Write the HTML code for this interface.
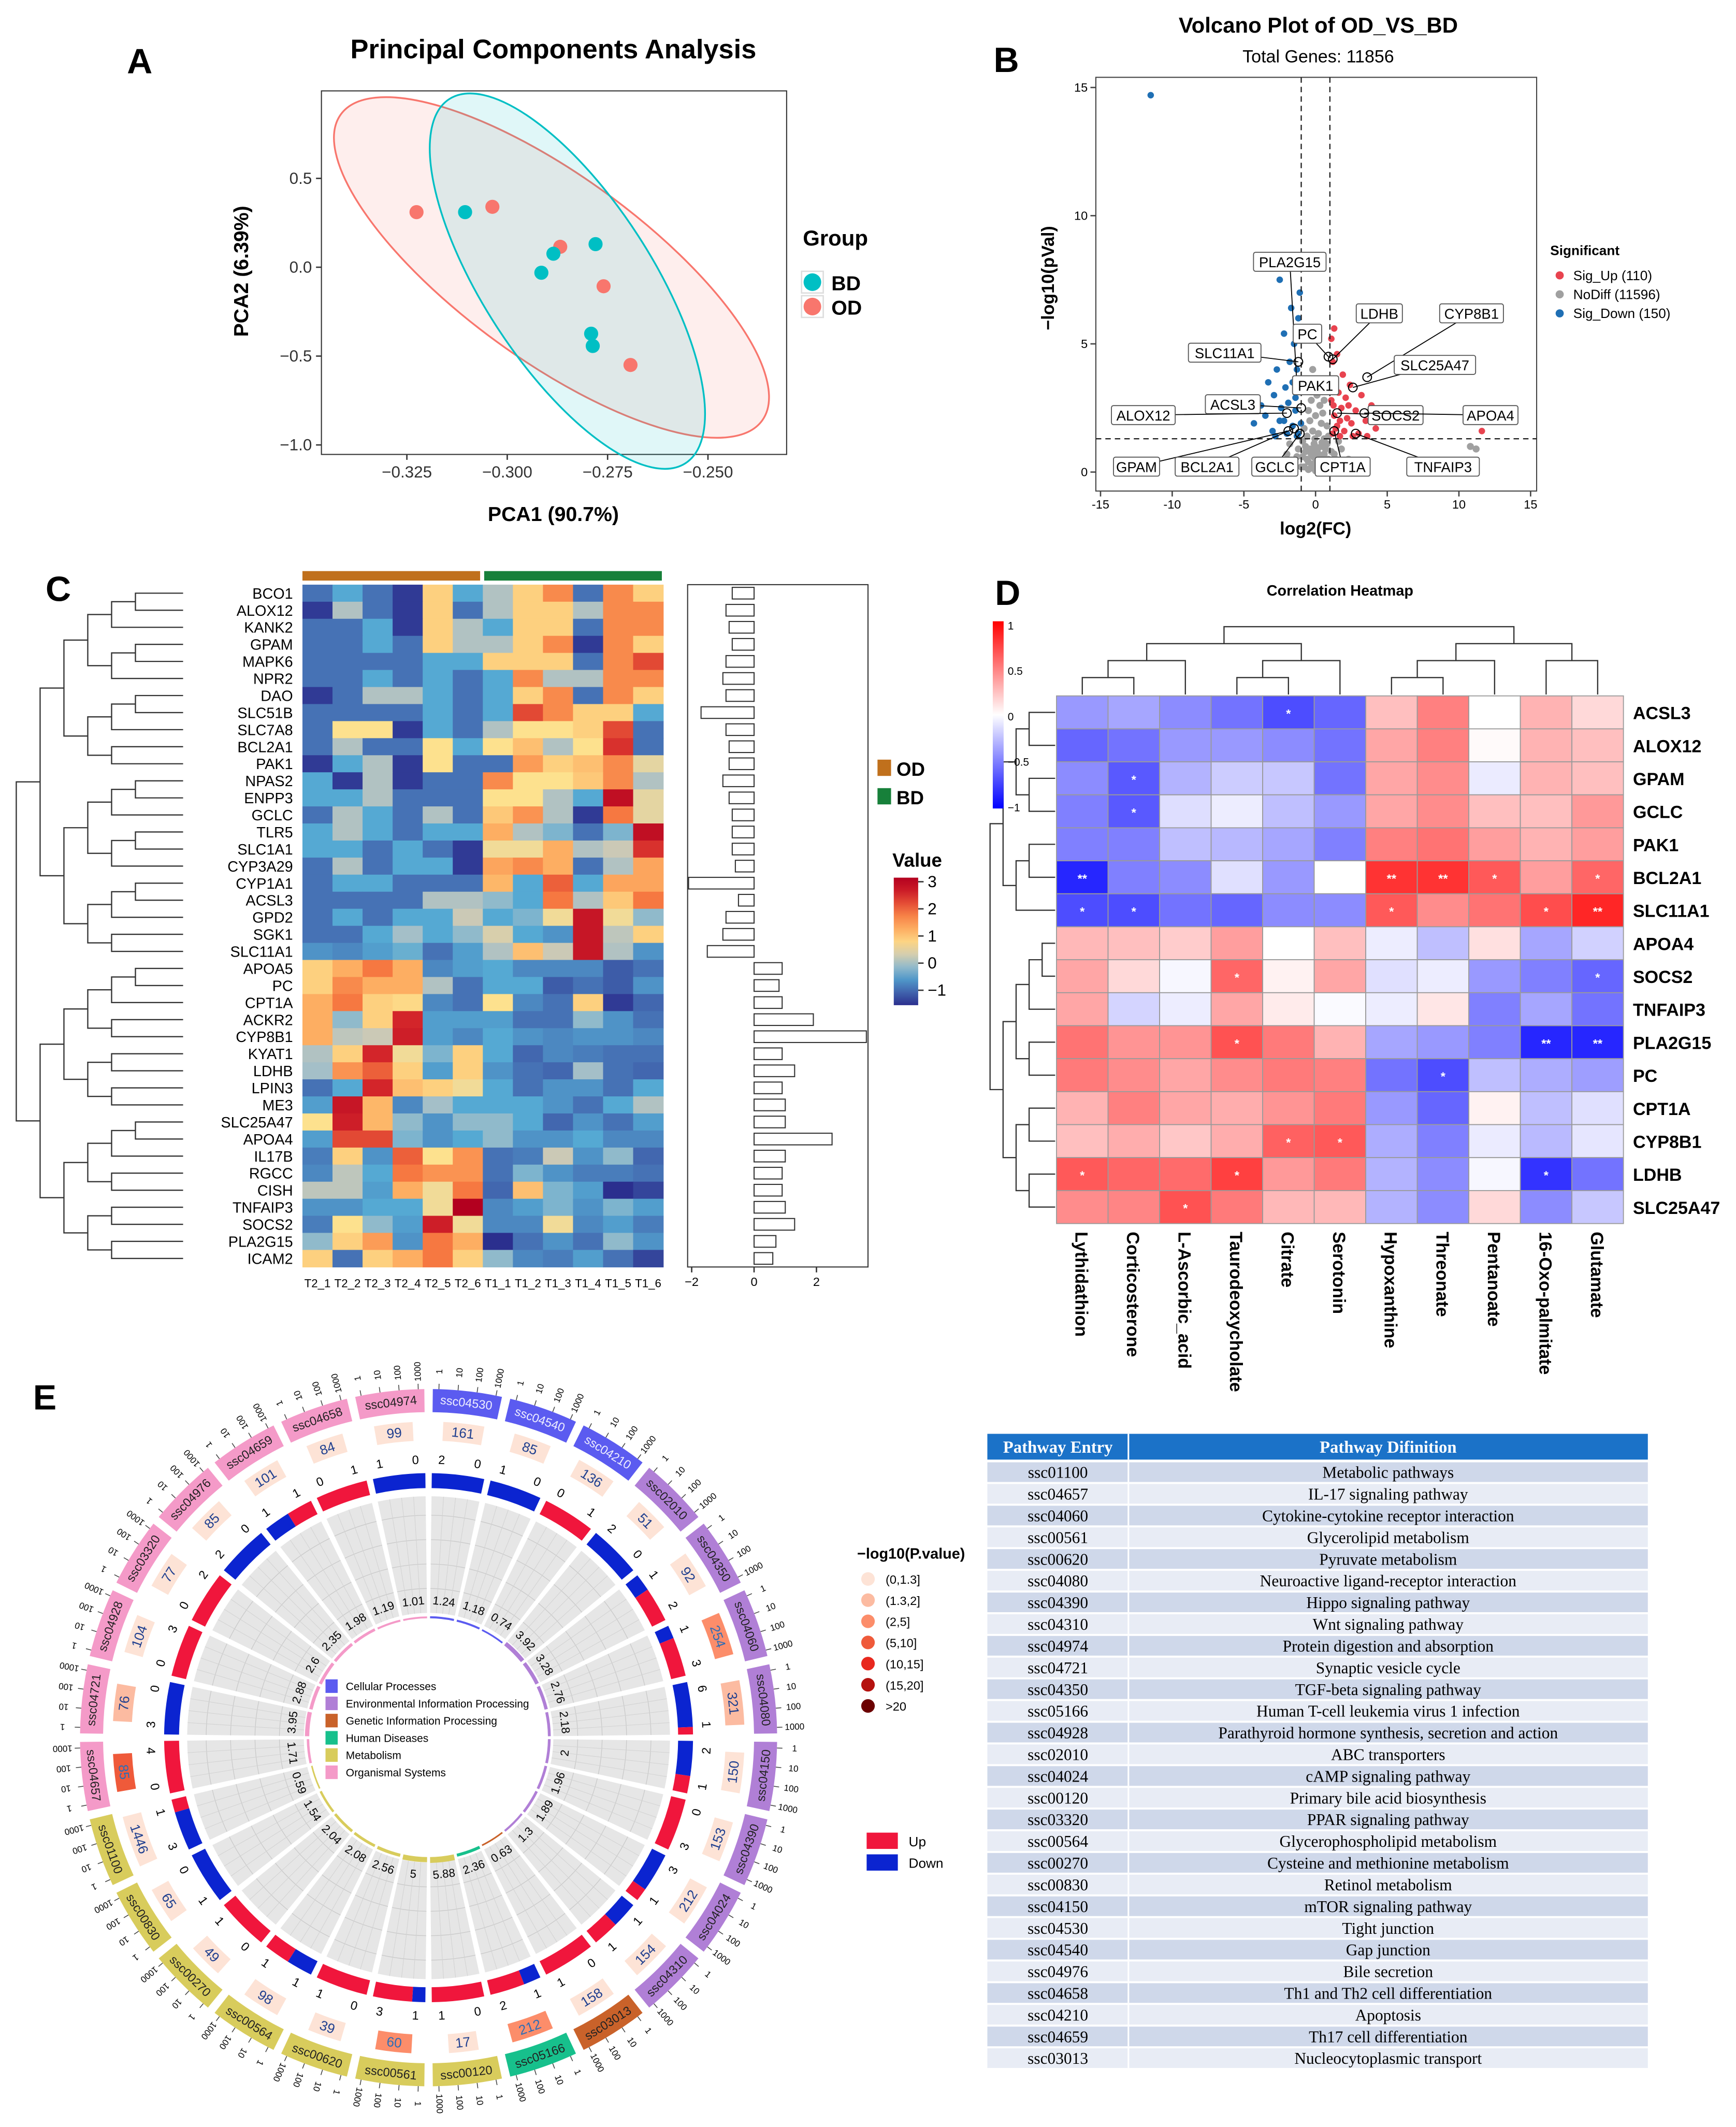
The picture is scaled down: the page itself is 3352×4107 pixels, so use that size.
<!DOCTYPE html>
<html><head><meta charset="utf-8">
<style>
html,body{margin:0;padding:0;background:#fff;}
svg{display:block;font-family:"Liberation Sans",sans-serif;}
.ser{font-family:"Liberation Serif",serif;}
</style></head>
<body>
<svg id="fig" xmlns="http://www.w3.org/2000/svg" width="3352" height="4107" viewBox="0 0 1280 1568" preserveAspectRatio="none">
<rect x="0" y="0" width="1280" height="1568" fill="#fff"/>
<g id="gA"></g>
<g id="gB"></g>
<g id="gC"></g>
<g id="gD"></g>
<g id="gE"></g>
<g id="gT"></g>
</svg>
<script>
// ---------- DATA ----------
const pcaODx=[-0.3226,-0.3037,-0.2868,-0.2760,-0.2693];
const pcaODy=[0.31,0.34,0.115,-0.107,-0.55];
const pcaBDx=[-0.3105,-0.2885,-0.2915,-0.2780,-0.2791,-0.2787];
const pcaBDy=[0.31,0.076,-0.031,0.13,-0.374,-0.443];
const pcaXTicks=[-0.325,-0.300,-0.275,-0.250];
const pcaYTicks=[0.5,0.0,-0.5,-1.0];

const volGray=[[-0.8,0.2],[-0.5,0.1],[-0.2,0.3],[0.1,0.1],[0.4,0.2],[0.7,0.3],[-0.9,0.6],[-0.6,0.5],[-0.3,0.7],[0,0.5],[0.3,0.6],[0.6,0.7],[0.9,0.5],[-1.2,0.9],[-0.7,1.0],[-0.4,0.9],[-0.1,1.1],[0.2,0.95],[0.5,1.0],[0.8,1.1],[1.1,0.8],[-1.5,0.3],[-1.0,0.2],[-0.5,0.4],[0,0.9],[0.5,0.4],[1.0,0.3],[1.4,0.5],[-0.6,1.4],[-0.2,1.6],[0.2,1.5],[0.6,1.3],[-0.4,2.0],[0,2.2],[0.4,1.9],[-0.8,1.7],[0.8,1.8],[-2,0.7],[1.8,0.9],[-0.3,2.8],[0.3,2.6],[-0.1,3.3],[0.1,3.0],[-0.5,2.4],[0.5,2.3],[-1.8,1.1],[1.6,1.2],[-0.9,1.2],[0.9,1.4],[0,0.05],[10.8,1.0],[11.2,0.9],[-0.2,4.0],[0.2,3.6],[-0.6,3.2],[0.6,2.8],[-1.3,0.6],[1.3,0.7],[-0.35,0.15],[0.35,0.35],[-0.15,0.6],[0.15,0.75],[-0.7,0.8],[0.7,0.9],[-2.5,0.4],[2.3,0.5],[-0.05,1.3],[0.45,1.15]];
const volUp=[[1.2,1.5],[1.5,1.8],[2,1.6],[2.5,1.9],[3,1.5],[1.3,2.2],[1.8,2.5],[2.2,2.1],[2.8,2.4],[3.5,2],[1.1,2.8],[1.6,3.1],[2.1,2.9],[1.4,3.6],[1.9,3.8],[1.2,4.3],[1.5,4.6],[2.4,3.4],[3.2,3.0],[3.9,2.6],[4.2,1.7],[1.7,1.4],[2.6,1.4],[1.05,3.3],[1.1,5.2],[1.3,5.6],[11.6,1.6],[1.4,1.7],[2.3,2.6],[3.6,1.4],[1.25,2.6],[1.7,2.0]];
const volDown=[[-1.2,1.5],[-1.6,1.8],[-2,1.5],[-2.5,2],[-3,1.6],[-3.5,2.2],[-1.4,2.4],[-1.9,2.7],[-2.4,2.5],[-2.9,3],[-1.1,3.2],[-1.6,3.5],[-2.1,3.3],[-1.3,4],[-1.8,4.3],[-2.7,4],[-1.5,5],[-2.2,5.4],[-1.2,6],[-1.7,6.4],[-1.1,7],[-2.5,7.5],[-3.8,2.6],[-4.3,1.9],[-4.8,2.9],[-1.3,1.4],[-2.8,1.4],[-3.3,3.5],[-1.05,8],[-11.5,14.7],[-1.4,2.9],[-2.2,2.0],[-1.02,1.9]];
const volLabelNames=["PLA2G15","PC","LDHB","CYP8B1","SLC11A1","PAK1","SLC25A47","ACSL3","ALOX12","SOCS2","APOA4","GPAM","BCL2A1","GCLC","CPT1A","TNFAIP3"];
const volLabelX=[-1.3,0.9,1.2,3.6,-1.2,1.1,2.6,-1.0,-2.0,1.5,3.4,-1.9,-1.5,-1.1,1.3,2.8];
const volLabelY=[3.4,4.5,4.4,3.7,4.3,3.3,3.3,2.5,2.3,2.3,2.3,1.6,1.7,1.5,1.6,1.5];
const volXTicks=[-15,-10,-5,0,5,10,15];
const volYTicks=[0,5,10,15];

const genes=["BCO1","ALOX12","KANK2","GPAM","MAPK6","NPR2","DAO","SLC51B","SLC7A8","BCL2A1","PAK1","NPAS2","ENPP3","GCLC","TLR5","SLC1A1","CYP3A29","CYP1A1","ACSL3","GPD2","SGK1","SLC11A1","APOA5","PC","CPT1A","ACKR2","CYP8B1","KYAT1","LDHB","LPIN3","ME3","SLC25A47","APOA4","IL17B","RGCC","CISH","TNFAIP3","SOCS2","PLA2G15","ICAM2"];
const samples=["T2_1","T2_2","T2_3","T2_4","T2_5","T2_6","T1_1","T1_2","T1_3","T1_4","T1_5","T1_6"];
const heatVals=[
[-1,-.5,-1,-1.5,.8,-.5,0,.8,1.6,-1,1.6,.8],
[-1.5,0,-1,-1.5,.8,-1,0,.8,.8,0,1.6,1.6],
[-1,-1,-.5,-1.5,.8,0,-.5,.8,.8,-1,1.6,1.6],
[-1,-1,-.5,-1,.8,0,0,.8,1.6,-1.5,1.6,.8],
[-1,-1,-1,-1,-.5,-.5,.8,.8,.8,-1,1.6,2.2],
[-1,-1,-.5,-1,-.5,-1,-.5,1.6,0,0,1.6,1.6],
[-1.5,-1,0,0,-.5,-1,-.5,.8,1.6,-1,1.6,.8],
[-1,-1,-1,-1,-.5,-1,-.5,2.2,1.6,.8,.8,-.5],
[-1,.6,.6,-1.5,-.5,-1,0,.6,.6,.8,2.2,-1],
[-1,0,-1,-1,.6,-.5,.6,1,0,.6,2.4,-1],
[-1.5,-.5,0,-1.5,.6,-1,-1,1.4,.8,1,1.6,.4],
[-.5,-1.5,0,-1.5,-1,-1,1.6,.6,.6,.9,1.6,0],
[-.5,-.5,0,-1,-1,-1,.6,.6,0,-.5,2.8,.4],
[-1,0,-.5,-1,0,-1,.9,1.5,0,-1.5,1.8,.4],
[-.5,0,-.5,-1,-.5,-.5,1.2,0,-.3,-1,-.3,2.8],
[-.5,-.5,-1,-.5,-1,-1.5,.5,.5,1.2,0,.2,2.4],
[-1,0,-1,-.5,-.5,-1.5,1.3,1.6,1.2,-1,0,1.3],
[-1,-.5,-.5,-1,-1,-1,1.1,-.5,2,-.5,1.3,1.3],
[-1,-1,-1,-1,0,0,-.2,-.5,1.8,0,.9,1.8],
[-1,-.5,-1,-.5,-.5,.2,-.5,-.3,.5,2.7,.5,-.2],
[-1,-1,-.5,-.1,-.5,-.2,.3,-.5,-.7,2.7,.1,.8],
[-.7,-.8,-.6,-.4,-1,-.6,0,1,.2,2.7,0,-.7],
[.8,1.2,1.8,1.2,-.8,-.6,-.5,-.8,-.8,-.8,-1.2,-1],
[.8,1.6,1.2,1.2,0,-1,-.5,-.5,-1.2,-1,-1.2,-.7],
[1.2,1.8,.8,.7,-.8,-1,.6,-.8,-1,.8,-1.5,-1.1],
[1.2,-.2,.8,2.5,-.6,-.6,-.6,-1,-1,-.2,-.7,-1],
[1.2,.1,.2,2.6,-.6,-.8,-.5,-.7,-.8,-.7,-.7,-.8],
[0,.8,2.5,.5,-.3,.8,-.5,-1.1,-.8,-.9,-1,-1],
[-.1,1.5,2,.8,-.6,.8,-.7,-1,-1.1,-.1,-1,-1.1],
[-1,-.5,2.5,1,.8,.5,-.5,-1,-.7,-.7,-1,-.5],
[-.6,2.7,1.1,-.8,-.1,-.5,-.5,-.5,-.7,-1,-.5,0],
[.6,2.6,1.1,-.2,-.7,-.2,-.2,-.5,-1.1,-.7,-1,-.6],
[-.6,2.2,2.2,-.3,-.7,-.5,-.2,-.7,-.7,-.5,-.8,-.8],
[-.9,.8,-.7,2,.6,1.5,-1,-.9,.2,-.7,-.2,-1.1],
[-.8,.1,-.5,1.8,1.5,1.5,-1,-.3,-.7,-.9,-.9,-1],
[.1,.1,-.6,1.2,.5,1.8,-1.1,1,-.3,-.6,-1.6,-1.4],
[-.7,-.7,-.5,-.5,.5,3,-.8,-.6,-.3,-.7,-.3,-.6],
[-.9,.6,-.2,-.6,2.6,.5,-.8,-.8,.5,-.8,-.6,-.9],
[-.2,.8,1.4,-.7,1.8,1.2,-1.6,-1,-.7,-1,-.2,-.7],
[.8,-1,.8,1.2,1.8,.8,-.2,-.8,-.9,-.6,-1,-1.4]];
const barVals=[-0.7,-0.9,-0.8,-0.7,-0.9,-1.0,-0.9,-1.7,-0.9,-0.8,-0.8,-1.0,-0.8,-0.7,-0.7,-0.7,-0.6,-2.1,-0.5,-0.9,-1.0,-1.5,0.9,0.8,0.9,1.9,3.6,0.9,1.3,0.9,1.0,1.0,2.5,1.0,0.9,0.9,1.0,1.3,0.7,0.6];
const barTicks=[-2,0,2];
const valueTicks=[3,2,1,0,-1];

const corRows=["ACSL3","ALOX12","GPAM","GCLC","PAK1","BCL2A1","SLC11A1","APOA4","SOCS2","TNFAIP3","PLA2G15","PC","CPT1A","CYP8B1","LDHB","SLC25A47"];
const corCols=["Lythidathion","Corticosterone","L-Ascorbic_acid","Taurodeoxycholate","Citrate","Serotonin","Hypoxanthine","Threonate","Pentanoate","16-Oxo-palmitate","Glutamate"];
const corVals=[
[-.4,-.35,-.45,-.55,-.7,-.6,.25,.5,0,.3,.15],
[-.6,-.55,-.4,-.4,-.45,-.55,.35,.5,.02,.3,.25],
[-.45,-.65,-.3,-.2,-.22,-.55,.35,.45,-.08,.3,.25],
[-.5,-.65,-.13,-.07,-.25,-.4,.35,.45,.25,.25,.4],
[-.5,-.5,-.25,-.28,-.35,-.5,.5,.55,.38,.3,.38],
[-.85,-.5,-.45,-.12,-.4,0,.8,.8,.65,.38,.6],
[-.7,-.7,-.55,-.6,-.45,-.45,.65,.45,.55,.7,.85],
[.28,.25,.2,.38,0,.25,-.07,-.25,.12,-.35,-.18],
[.35,.15,-.03,.6,.05,.35,-.12,-.07,-.4,-.5,-.6],
[.35,-.17,-.07,.35,.08,-.02,-.07,.1,-.5,-.35,-.55],
[.55,.42,.42,.68,.52,.3,-.35,-.4,-.5,-.85,-.85],
[.52,.45,.35,.45,.52,.5,-.55,-.7,-.25,-.32,-.38],
[.3,.5,.35,.32,.42,.52,-.4,-.6,.05,-.25,-.12],
[.25,.32,.22,.32,.62,.65,-.32,-.5,-.08,-.27,-.1],
[.65,.6,.58,.75,.4,.52,-.3,-.45,-.03,-.8,-.55],
[.45,.48,.68,.52,.28,.28,-.3,-.45,.15,-.45,-.22]];
const corStars=[
["","","","","*","","","","","",""],
["","","","","","","","","","",""],
["","*","","","","","","","","",""],
["","*","","","","","","","","",""],
["","","","","","","","","","",""],
["**","","","","","","**","**","*","","*"],
["*","*","","","","","*","","","*","**"],
["","","","","","","","","","",""],
["","","","*","","","","","","","*"],
["","","","","","","","","","",""],
["","","","*","","","","","","**","**"],
["","","","","","","","*","","",""],
["","","","","","","","","","",""],
["","","","","*","*","","","","",""],
["*","","","*","","","","","","*",""],
["","","*","","","","","","","",""]];
const corTicks=[1,0.5,0,-0.5,-1];

const pathIds=["ssc04530","ssc04540","ssc04210","ssc02010","ssc04350","ssc04060","ssc04080","ssc04150","ssc04390","ssc04024","ssc04310","ssc03013","ssc05166","ssc00120","ssc00561","ssc00620","ssc00564","ssc00270","ssc00830","ssc01100","ssc04657","ssc04721","ssc04928","ssc03320","ssc04976","ssc04659","ssc04658","ssc04974"];
const pathCat=[0,0,0,1,1,1,1,1,1,1,1,2,3,4,4,4,4,4,4,4,5,5,5,5,5,5,5,5];
const pathCount=[161,85,136,51,92,254,321,150,153,212,154,158,212,17,60,39,98,49,65,1446,85,76,104,77,85,101,84,99];
const pathPval=[0.6,0.5,0.8,0.5,0.7,2.8,1.4,0.6,0.6,0.9,0.6,0.6,2.2,0.6,2.4,0.6,0.7,0.6,0.6,0.6,5.5,1.6,0.6,0.6,0.7,0.7,0.6,0.6];
const pathUp=[0,0,1,0,2,3,1,1,3,1,1,1,2,1,3,1,1,1,0,1,4,0,3,2,0,1,1,0];
const pathDown=[2,1,0,2,1,1,6,2,0,3,1,0,1,0,1,0,1,0,1,3,0,3,0,0,2,1,0,1];
const pathRich=[1.24,1.18,0.74,3.92,3.28,2.76,2.18,2.0,1.96,1.89,1.3,0.63,2.36,5.88,5,2.56,2.08,2.04,1.54,0.59,1.71,3.95,2.88,2.6,2.35,1.98,1.19,1.01];
const catNames=["Cellular Processes","Environmental Information Processing","Genetic Information Processing","Human Diseases","Metabolism","Organismal Systems"];
const pLegend=["(0,1.3]","(1.3,2]","(2,5]","(5,10]","(10,15]","(15,20]",">20"];

const tableIds=["ssc01100","ssc04657","ssc04060","ssc00561","ssc00620","ssc04080","ssc04390","ssc04310","ssc04974","ssc04721","ssc04350","ssc05166","ssc04928","ssc02010","ssc04024","ssc00120","ssc03320","ssc00564","ssc00270","ssc00830","ssc04150","ssc04530","ssc04540","ssc04976","ssc04658","ssc04210","ssc04659","ssc03013"];
const tableDefs=["Metabolic pathways","IL-17 signaling pathway","Cytokine-cytokine receptor interaction","Glycerolipid metabolism","Pyruvate metabolism","Neuroactive ligand-receptor interaction","Hippo signaling pathway","Wnt signaling pathway","Protein digestion and absorption","Synaptic vesicle cycle","TGF-beta signaling pathway","Human T-cell leukemia virus 1 infection","Parathyroid hormone synthesis, secretion and action","ABC transporters","cAMP signaling pathway","Primary bile acid biosynthesis","PPAR signaling pathway","Glycerophospholipid metabolism","Cysteine and methionine metabolism","Retinol metabolism","mTOR signaling pathway","Tight junction","Gap junction","Bile secretion","Th1 and Th2 cell differentiation","Apoptosis","Th17 cell differentiation","Nucleocytoplasmic transport"];

// ---------- HELPERS ----------
const NS="http://www.w3.org/2000/svg";
function mk(parent,tag,attrs,text){const e=document.createElementNS(NS,tag);for(const k in attrs)e.setAttribute(k,attrs[k]);if(text!==undefined)e.textContent=text;parent.appendChild(e);return e;}
function hex2rgb(h){return [parseInt(h.substr(1,2),16),parseInt(h.substr(3,2),16),parseInt(h.substr(5,2),16)];}
function ramp(stops,v){if(v<=stops[0][0])return stops[0][1];if(v>=stops[stops.length-1][0])return stops[stops.length-1][1];
 for(let i=0;i<stops.length-1;i++){const a=stops[i],b=stops[i+1];if(v>=a[0]&&v<=b[0]){const t=(v-a[0])/(b[0]-a[0]);const ca=hex2rgb(a[1]),cb=hex2rgb(b[1]);return "rgb("+ca.map((c,j)=>Math.round(c+(cb[j]-c)*t)).join(",")+")";}}}
const heatStops=[[-1.6,"#2b2f8e"],[-1,"#4672b5"],[-0.5,"#55a9d3"],[-0.1,"#a4bfc8"],[0.2,"#cbc9b6"],[0.6,"#fde18e"],[1.2,"#fdae62"],[1.8,"#f67841"],[2.5,"#d3252a"],[3,"#b3001f"]];
const corStops=[[-1,"#0000ff"],[0,"#ffffff"],[1,"#ff0000"]];
function txt(p,x,y,s,o){const a=Object.assign({x:x,y:y,"font-size":12,fill:"#000"},o||{});return mk(p,"text",a,s);}
function plabel(id,x,y,s){const t=txt(document.getElementById(id),x,y,s,{"font-size":26,"font-weight":"bold","text-anchor":"middle"});}

// ---------- PANEL A ----------
(function(){
const g=document.getElementById("gA");
plabel("gA",103,54,"A");
const t=txt(g,408,43,"Principal Components Analysis",{"font-size":20,"font-weight":"bold","text-anchor":"middle"});

const xs=v=>300+(v+0.325)/0.025*74, ys=v=>197-v*131;
const box=mk(g,"rect",{x:237,y:67,width:343,height:268,fill:"#fff",stroke:"#333","stroke-width":0.8});

function ell(xa,ya,rx,ry,ang,col,name){const mx=xa.reduce((a,b)=>a+b)/xa.length,my=ya.reduce((a,b)=>a+b)/ya.length;
 const e=mk(g,"ellipse",{cx:xs(mx)+8,cy:ys(my)+3,rx:rx,ry:ry,transform:`rotate(${ang} ${xs(mx)+8} ${ys(my)+3})`,fill:col,"fill-opacity":0.12,stroke:col,"stroke-width":1.3});
 }
ell(pcaODx,pcaODy,192,68,36,"#F8766D","ellipse-od");
ell(pcaBDx,pcaBDy,160,62,57,"#00BFC4","ellipse-bd");
pcaODx.forEach((x,i)=>{const c=mk(g,"circle",{cx:xs(x),cy:ys(pcaODy[i]),r:5.2,fill:"#F8766D"});});
pcaBDx.forEach((x,i)=>{const c=mk(g,"circle",{cx:xs(x),cy:ys(pcaBDy[i]),r:5.2,fill:"#00BFC4"});});
pcaXTicks.forEach(v=>{mk(g,"line",{x1:xs(v),x2:xs(v),y1:335,y2:339,stroke:"#333"});const l=txt(g,xs(v),352,v.toFixed(3).replace("-","−"),{"font-size":12,"text-anchor":"middle",fill:"#333"});});
pcaYTicks.forEach(v=>{mk(g,"line",{x1:233,x2:237,y1:ys(v),y2:ys(v),stroke:"#333"});const l=txt(g,230,ys(v)+4,v.toFixed(1).replace("-","−"),{"font-size":12,"text-anchor":"end",fill:"#333"});});
const xl=txt(g,408,384,"PCA1 (90.7%)",{"font-size":15,"font-weight":"bold","text-anchor":"middle"});
const yl=txt(g,0,0,"PCA2 (6.39%)",{"font-size":15,"font-weight":"bold","text-anchor":"middle",transform:"translate(183,200) rotate(-90)"});
const lg=txt(g,592,181,"Group",{"font-size":16,"font-weight":"bold"});
[["BD","#00BFC4",208],["OD","#F8766D",226]].forEach(([n,c,y])=>{const r=mk(g,"rect",{x:591,y:y-8,width:16,height:16,fill:"#fff",stroke:"#ddd"});mk(g,"circle",{cx:599,cy:y,r:6.5,fill:c});const l=txt(g,613,y+6,n,{"font-size":15,"font-weight":"bold"});});
})();

// ---------- PANEL B ----------
(function(){
const g=document.getElementById("gB");
plabel("gB",742,53,"B");
const t=txt(g,972,24,"Volcano Plot of OD_VS_BD",{"font-size":16,"font-weight":"bold","text-anchor":"middle"});
const st=txt(g,972,46,"Total Genes: 11856",{"font-size":13,"text-anchor":"middle"});
const vx=v=>970+v*10.57, vy=v=>348-v*18.9;
const b=mk(g,"rect",{x:808,y:57,width:325,height:305,fill:"#fff",stroke:"#444","stroke-width":0.8});
volXTicks.forEach(v=>{mk(g,"line",{x1:vx(v),x2:vx(v),y1:362,y2:366,stroke:"#444"});const l=txt(g,vx(v),375,String(v),{"font-size":9,"text-anchor":"middle"});});
volYTicks.forEach(v=>{mk(g,"line",{x1:804,x2:808,y1:vy(v),y2:vy(v),stroke:"#444"});const l=txt(g,802,vy(v)+3,String(v),{"font-size":9,"text-anchor":"end"});});
volGray.forEach(p=>{const c=mk(g,"circle",{cx:vx(p[0]),cy:vy(p[1]),r:2.6,fill:"#a0a0a0"});});
volUp.forEach(p=>{const c=mk(g,"circle",{cx:vx(p[0]),cy:vy(p[1]),r:2.4,fill:"#e8434f"});});
volDown.forEach(p=>{const c=mk(g,"circle",{cx:vx(p[0]),cy:vy(p[1]),r:2.4,fill:"#1f6fb4"});});
[-1,1].forEach(v=>{const l=mk(g,"line",{x1:vx(v),x2:vx(v),y1:57,y2:362,stroke:"#222","stroke-dasharray":"4,3","stroke-width":0.9});});
const hl=mk(g,"line",{x1:808,x2:1133,y1:vy(1.3),y2:vy(1.3),stroke:"#222","stroke-dasharray":"4,3","stroke-width":0.9});
const boxPos=[[951,193],[964,246],[1017,231],[1085,231],[903,260],[970,284],[1058,269],[909,298],[843,306],[1029,306],[1099,306],[838,344],[890,344],[940,344],[990,344],[1064,344]];
volLabelNames.forEach((n,i)=>{const px=vx(volLabelX[i]),py=vy(volLabelY[i]);const [bx,by]=boxPos[i];
 mk(g,"line",{x1:bx,y1:by,x2:px,y2:py,stroke:"#000","stroke-width":0.7});
 mk(g,"circle",{cx:px,cy:py,r:3.2,fill:"none",stroke:"#000","stroke-width":0.8});
 const w=n.length*6.5+8;const r=mk(g,"rect",{x:bx-w/2,y:by-7,width:w,height:14,fill:"#fff",stroke:"#555","stroke-width":0.7,rx:1.5});
 const l=txt(g,bx,by+4,n,{"font-size":10.5,"text-anchor":"middle"});});
const xl=txt(g,970,394,"log2(FC)",{"font-size":13,"font-weight":"bold","text-anchor":"middle"});
const yl=txt(g,0,0,"−log10(pVal)",{"font-size":13,"font-weight":"bold","text-anchor":"middle",transform:"translate(777,205) rotate(-90)"});
const lt=txt(g,1143,188,"Significant",{"font-size":10,"font-weight":"bold"});
[["Sig_Up (110)","#e8434f",203],["NoDiff (11596)","#a0a0a0",217],["Sig_Down (150)","#1f6fb4",231]].forEach(([n,c,y])=>{mk(g,"circle",{cx:1150,cy:y,r:3,fill:c});const l=txt(g,1160,y+3.5,n,{"font-size":10});});
})();

// ---------- PANEL C ----------
function dendro(g,n,first,maxD,leafPos,levelPos,horizontal,name){
 function build(lo,hi,d){if(lo===hi)return {p:leafPos(lo),lv:levelPos(maxD)};
  let m=(d===0&&first!=null)?first:Math.floor((lo+hi)/2);
  const a=build(lo,m,d+1),b=build(m+1,hi,d+1);const lv=levelPos(d);
  let path;
  if(horizontal) path=`M${a.lv},${a.p}H${lv}V${b.p}H${b.lv}`;
  else path=`M${a.p},${a.lv}V${lv}H${b.p}V${b.lv}`;
  const e=mk(g,"path",{d:path,fill:"none",stroke:"#333","stroke-width":0.9});
  return {p:(a.p+b.p)/2,lv:lv};}
 build(0,n-1,0);
}
(function(){
const g=document.getElementById("gC");
plabel("gC",43,443,"C");
const x0=223,x1=489,y0=431,y1=934,cw=(x1-x0)/12,rh=(y1-y0)/40;
const og=mk(g,"rect",{x:x0,y:421,width:cw*6-2,height:7,fill:"#c0701c"});
const bg=mk(g,"rect",{x:x0+cw*6+1,y:421,width:cw*6-2,height:7,fill:"#17803a"});
heatVals.forEach((row,i)=>row.forEach((v,j)=>{const r=mk(g,"rect",{x:x0+j*cw,y:y0+i*rh,width:cw+0.3,height:rh+0.3,fill:ramp(heatStops,v)});}));
genes.forEach((n,i)=>{const l=txt(g,216,y0+(i+0.5)*rh+4,n,{"font-size":11,"text-anchor":"end"});});
samples.forEach((s,j)=>{const l=txt(g,x0+(j+0.5)*cw,949,s,{"font-size":8.5,"text-anchor":"middle"});});
dendro(g,40,21,7,i=>y0+(i+0.5)*rh,d=>12+d*(123/7),true,'row-dendrogram-branch');
// bar chart
const bxs=v=>556+v*23;
const bb=mk(g,"rect",{x:507,y:431,width:133,height:503,fill:"none",stroke:"#333","stroke-width":0.8});
barVals.forEach((v,i)=>{const r=mk(g,"rect",{x:Math.min(bxs(0),bxs(v)),y:y0+i*rh+2,width:Math.abs(bxs(v)-bxs(0)),height:rh-4,fill:"#fff",stroke:"#333","stroke-width":0.8});});
barTicks.forEach(v=>{mk(g,"line",{x1:bxs(v),x2:bxs(v),y1:934,y2:938,stroke:"#333"});const l=txt(g,bxs(v),948,String(v).replace("-","−"),{"font-size":9,"text-anchor":"middle"});});
[["OD","#c0701c",566],["BD","#17803a",587]].forEach(([n,c,y])=>{mk(g,"rect",{x:647,y:y-6,width:10,height:12,fill:c});const l=txt(g,661,y+6,n,{"font-size":14,"font-weight":"bold"});});
const vt=txt(g,658,639,"Value",{"font-size":14,"font-weight":"bold"});
const defs=mk(g,"defs",{});const lgr=mk(defs,"linearGradient",{id:"hg",x1:0,y1:0,x2:0,y2:1});
for(let k=0;k<=10;k++){const v=3.1-k*0.47;mk(lgr,"stop",{offset:(k*10)+"%","stop-color":ramp(heatStops,v)});}
const cb=mk(g,"rect",{x:659,y:647,width:18,height:94,fill:"url(#hg)"});
valueTicks.forEach(v=>{const y=650+(3-v)*20;mk(g,"line",{x1:677,x2:681,y1:y,y2:y,stroke:"#333"});const l=txt(g,684,y+4,String(v).replace("-","−"),{"font-size":12});});
})();

// ---------- PANEL D ----------
(function(){
const g=document.getElementById("gD");
plabel("gD",743,446,"D");
const t=txt(g,988,439,"Correlation Heatmap",{"font-size":11,"font-weight":"bold","text-anchor":"middle"});
const x0=779,x1=1197,y0=513,y1=902,cw=(x1-x0)/11,rh=(y1-y0)/16;
corVals.forEach((row,i)=>row.forEach((v,j)=>{const r=mk(g,"rect",{x:x0+j*cw,y:y0+i*rh,width:cw,height:rh,fill:ramp(corStops,v),stroke:"#9a9a9a","stroke-width":0.7});
 const s=corStars[i][j];if(s){const l=txt(g,x0+(j+0.5)*cw,y0+(i+0.5)*rh+4,s,{"font-size":9,fill:"#fff","text-anchor":"middle","font-weight":"bold"});}}));
corRows.forEach((n,i)=>{const l=txt(g,1204,y0+(i+0.5)*rh+5,n,{"font-size":13,"font-weight":"bold"});});
corCols.forEach((n,j)=>{const cx=x0+(j+0.5)*cw;const l=txt(g,0,0,n,{"font-size":13,"font-weight":"bold",transform:`translate(${cx-5},908) rotate(90)`});});
dendro(g,16,6,5,i=>y0+(i+0.5)*rh,d=>730+d*(48/5),true,'row-dendrogram-branch');
dendro(g,11,5,4,j=>x0+(j+0.5)*cw,d=>462+d*(50/4),false,'col-dendrogram-branch');
const defs=mk(g,"defs",{});const lgr=mk(defs,"linearGradient",{id:"cg",x1:0,y1:0,x2:0,y2:1});
mk(lgr,"stop",{offset:"0%","stop-color":"#ff0000"});mk(lgr,"stop",{offset:"50%","stop-color":"#ffffff"});mk(lgr,"stop",{offset:"100%","stop-color":"#0000ff"});
const cb=mk(g,"rect",{x:732,y:458,width:8,height:138,fill:"url(#cg)"});
corTicks.forEach(v=>{const y=461+(1-v)*67;const l=txt(g,743,y+3,String(v).replace("-","−"),{"font-size":8});});
})();

// ---------- PANEL E ----------
(function(){
const g=document.getElementById("gE");
plabel("gE",33,1039,"E");
const cx=316,cy=1281,N=pathIds.length,step=360/N,gap=0.7;
const catCol=["#5b5bf0","#b07fd6","#c9622a","#17c08c","#d8cc5c","#f49ac8"];
const pt=(r,a)=>[cx+r*Math.sin(a*Math.PI/180),cy-r*Math.cos(a*Math.PI/180)];
function ann(r0,r1,a0,a1){const p1=pt(r1,a0),p2=pt(r1,a1),p3=pt(r0,a1),p4=pt(r0,a0);const lg=(a1-a0)>180?1:0;
 return `M${p1[0]},${p1[1]}A${r1},${r1} 0 ${lg} 1 ${p2[0]},${p2[1]}L${p3[0]},${p3[1]}A${r0},${r0} 0 ${lg} 0 ${p4[0]},${p4[1]}Z`;}
function rot(a){return (a<=90||a>=270)?a:a-180;}
function ptxt(r,a,s,o,name){const p=pt(r,a);const l=txt(g,p[0],p[1],s,Object.assign({"text-anchor":"middle","dominant-baseline":"central",transform:`rotate(${rot(a)} ${p[0]} ${p[1]})`},o));return l;}
const pcols=["#fde3d6","#fcbba1","#fc8d6a","#ef5a3a","#e8281e","#b5120f","#6b0000"];
const pcolor=v=>v<=1.3?pcols[0]:v<=2?pcols[1]:v<=5?pcols[2]:v<=10?pcols[3]:v<=15?pcols[4]:v<=20?pcols[5]:pcols[6];
const maxLog=Math.log10(2000);
pathIds.forEach((id,i)=>{const a0=i*step+gap,a1=(i+1)*step-gap,m=(a0+a1)/2;
 // grey inner sector
 const s=mk(g,"path",{d:ann(92,178,a0,a1),fill:"#e6e6e6"});
 [110,128,146,164].forEach(r=>{const p1=pt(r,a0),p2=pt(r,a1);mk(g,"path",{d:`M${p1[0]},${p1[1]}A${r},${r} 0 0 1 ${p2[0]},${p2[1]}`,fill:"none",stroke:"#c9c9c9","stroke-width":0.5});});
 [0.25,0.5,0.75].forEach(f=>{const a=a0+(a1-a0)*f,p1=pt(92,a),p2=pt(178,a);mk(g,"line",{x1:p1[0],y1:p1[1],x2:p2[0],y2:p2[1],stroke:"#d2d2d2","stroke-width":0.4});});
 const rb=mk(g,"path",{d:ann(88,88+pathRich[i]*0.6+0.8,a0,a1),fill:catCol[pathCat[i]]});
 ptxt(101,m,String(pathRich[i]),{"font-size":8.5},'rich-factor-value');
 // up/down ring
 const tot=pathUp[i]+pathDown[i];const ad=a0+(a1-a0)*pathDown[i]/tot;
 if(pathDown[i]>0){const d=mk(g,"path",{d:ann(184,195,a0,ad),fill:"#0b24d0"});}
 if(pathUp[i]>0){const u=mk(g,"path",{d:ann(184,195,ad,a1),fill:"#f0163c"});}
 ptxt(205,a0+2,String(pathDown[i]),{"font-size":9},'down-count');
 ptxt(205,a1-2,String(pathUp[i]),{"font-size":9},'up-count');
 // count ring
 const cw2=3+ Math.log10(pathCount[i])*2.2; const span=(a1-a0);
 const cb=mk(g,"path",{d:ann(219,233,m-cw2/2*span/12,m+cw2/2*span/12),fill:pcolor(pathPval[i])});
 ptxt(226,m,String(pathCount[i]),{"font-size":10,fill:pathPval[i]>2?"#2f6db5":"#1f3f8f"},'gene-count-label');
 // category box
 const bx=mk(g,"path",{d:ann(240,257,a0,a1),fill:catCol[pathCat[i]]});
 ptxt(248.5,m,id,{"font-size":9,fill:pathCat[i]===0?"#eef":"#222"},'pathway-id-label');
 // scale ticks
 ["1","10","100","1000"].forEach((tk,k)=>{const a=a0+1+(a1-a0-2)*(k/3);const p1=pt(257,a),p2=pt(261,a);mk(g,"line",{x1:p1[0],y1:p1[1],x2:p2[0],y2:p2[1],stroke:"#444","stroke-width":0.6});
  const p=pt(270,a);const l=txt(g,p[0],p[1],tk,{"font-size":6.5,"text-anchor":"middle","dominant-baseline":"central",transform:`rotate(${a-90} ${p[0]} ${p[1]})`});});
});
// category legend
catNames.forEach((n,k)=>{const y=1243+k*12.7;mk(g,"rect",{x:240,y:y-5,width:9,height:10,fill:catCol[k]});const l=txt(g,255,y+3,n,{"font-size":8});});
const pt2=txt(g,632,1149,"−log10(P.value)",{"font-size":11,"font-weight":"bold"});
pLegend.forEach((n,k)=>{const y=1164+k*15.6;mk(g,"circle",{cx:640,cy:y,r:5,fill:pcols[k]});const l=txt(g,653,y+3.5,n,{"font-size":9});});
[["Up","#f0163c",1357],["Down","#0b24d0",1373]].forEach(([n,c,y])=>{mk(g,"rect",{x:639,y:y-6,width:23,height:12,fill:c});const l=txt(g,670,y+4,n,{"font-size":10});});
})();

// ---------- TABLE ----------
(function(){
const g=document.getElementById("gT");
const x0=728,x1=1215,xs=832,hy=1057,hh=19,ry=1078,rh=16;
const h=mk(g,"rect",{x:x0,y:hy,width:x1-x0,height:hh,fill:"#1b72c8"});
mk(g,"line",{x1:xs,x2:xs,y1:hy,y2:hy+hh,stroke:"#fff","stroke-width":1.2});
const a=txt(g,(x0+xs)/2,hy+14,"Pathway Entry",{"font-size":12.5,"font-weight":"bold",fill:"#fff","text-anchor":"middle","class":"ser"});
const b=txt(g,(xs+x1)/2,hy+14,"Pathway Difinition",{"font-size":12.5,"font-weight":"bold",fill:"#fff","text-anchor":"middle","class":"ser"});
tableIds.forEach((id,i)=>{const y=ry+i*rh;const f=i%2===0?"#cfd8ea":"#e8ecf5";
 const r=mk(g,"rect",{x:x0,y:y,width:x1-x0,height:rh-1.5,fill:f});
 mk(g,"line",{x1:xs,x2:xs,y1:y,y2:y+rh-1.5,stroke:"#fff","stroke-width":1.2});
 const c1=txt(g,(x0+xs)/2,y+11.5,id,{"font-size":12,"text-anchor":"middle","class":"ser"});
 const c2=txt(g,(xs+x1)/2,y+11.5,tableDefs[i],{"font-size":12,"text-anchor":"middle","class":"ser"});
});
})();
</script>
</body></html>
